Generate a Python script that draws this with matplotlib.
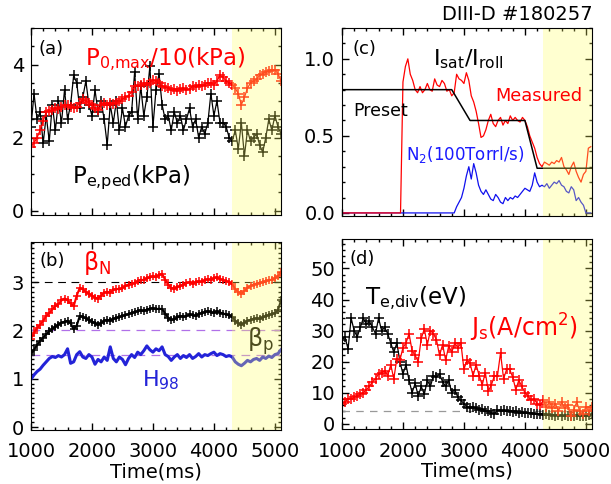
import matplotlib.pyplot as plt
import numpy as np
from matplotlib.ticker import MultipleLocator

# time bases (ms)
t50 = np.arange(1000, 5101, 50)
t40 = np.arange(1000, 5081, 40)

# (a) pedestal pressure and P0,max/10 (kPa)
pe_ped = [2.3, 3.2, 2.5, 2.7, 1.85, 2.6, 1.9, 2.9, 2.2, 3.0,
          2.4, 3.3, 2.5, 2.9, 3.7, 3.5, 2.8, 3.1, 3.55, 2.9,
          2.6, 3.3, 2.7, 3.0, 2.5, 1.8, 2.9, 2.4, 3.0, 2.2,
          2.8, 2.3, 2.6, 2.7, 3.8, 2.5, 3.4, 2.6, 3.1, 3.95,
          2.3, 3.3, 3.75, 2.9, 2.5, 2.6, 2.2, 2.7, 2.4, 2.6,
          2.2, 2.5, 2.8, 2.3, 2.5, 2.0, 2.3, 2.1, 2.4, 3.2,
          2.6, 3.0, 2.4, 2.4, 2.3, 2.0, 1.9, 2.2, 1.7, 2.4,
          1.5, 2.2, 1.9, 2.0, 2.1, 1.8, 1.6, 2.0, 2.5, 2.2,
          2.6, 2.3, 2.1]
p0_max = [1.75, 1.85, 2.0, 2.2, 2.45, 2.7, 2.72, 2.75, 2.8, 2.78,
          2.85, 2.9, 2.88, 2.85, 2.8, 2.85, 2.95, 3.05, 3.0, 2.95,
          2.9, 2.8, 2.75, 2.9, 2.95, 2.9, 2.95, 2.92, 2.95, 3.0,
          3.05, 3.1, 3.15, 3.25, 3.4, 3.42, 3.45, 3.48, 3.45, 3.5,
          3.58, 3.55, 3.5, 3.42, 3.38, 3.35, 3.3, 3.32, 3.28, 3.32,
          3.35, 3.3, 3.33, 3.4, 3.38, 3.45, 3.4, 3.45, 3.5, 3.48,
          3.45, 3.55, 3.7, 3.65, 3.55, 3.5, 3.45, 3.35, 3.2, 2.9,
          3.1, 3.35, 3.5, 3.55, 3.6, 3.7, 3.75, 3.8, 3.82, 3.85,
          3.85, 3.75, 3.55]

# (b) beta_N, beta_p, H98
beta_n = [1.83, 1.95, 2.05, 2.12, 2.2, 2.3, 2.36, 2.44, 2.5, 2.55,
          2.62, 2.66, 2.62, 2.56, 2.5, 2.72, 2.88, 2.85, 2.8, 2.76,
          2.72, 2.68, 2.66, 2.72, 2.78, 2.8, 2.78, 2.84, 2.86, 2.85,
          2.88, 2.92, 2.95, 2.97, 2.98, 3.02, 3.05, 3.04, 3.08, 3.1,
          3.12, 3.1, 3.15, 3.17, 3.05, 2.95, 2.88, 2.86, 2.9, 2.92,
          2.95, 2.98, 3.0, 2.97, 3.0, 3.02, 3.0, 3.04, 3.06, 3.05,
          3.08, 3.1, 3.06, 3.04, 3.02, 3.0, 2.96, 2.85, 2.8, 2.76,
          2.82, 2.88, 2.92, 2.95, 2.97, 2.98, 3.0, 3.02, 3.04, 3.05,
          3.08, 3.12, 3.2]
beta_p = [1.5, 1.6, 1.7, 1.78, 1.85, 1.92, 1.98, 2.03, 2.08, 2.12,
          2.16, 2.18, 2.2, 2.15, 2.02, 2.1, 2.3, 2.28, 2.25, 2.22,
          2.18, 2.15, 2.12, 2.15, 2.2, 2.22, 2.2, 2.24, 2.26, 2.28,
          2.3, 2.32, 2.34, 2.36, 2.38, 2.4, 2.42, 2.4, 2.43, 2.45,
          2.46, 2.44, 2.45, 2.44, 2.35, 2.26, 2.22, 2.23, 2.27, 2.3,
          2.28, 2.3, 2.33, 2.32, 2.3, 2.34, 2.36, 2.38, 2.4, 2.38,
          2.36, 2.4, 2.37, 2.35, 2.33, 2.32, 2.28, 2.2, 2.15, 2.12,
          2.16, 2.2, 2.22, 2.24, 2.25, 2.24, 2.27, 2.3, 2.32, 2.34,
          2.36, 2.42, 2.62]
h98 = [0.99, 1.08, 1.15, 1.2, 1.28, 1.35, 1.42, 1.46, 1.44, 1.48,
       1.45, 1.5, 1.62, 1.32, 1.35, 1.5, 1.56, 1.45, 1.42, 1.5,
       1.45, 1.3, 1.4, 1.35, 1.45, 1.38, 1.66, 1.42, 1.35, 1.45,
       1.4, 1.29, 1.42, 1.5, 1.44, 1.55, 1.5, 1.58, 1.68, 1.6,
       1.55, 1.62, 1.58, 1.66, 1.5, 1.46, 1.38, 1.45, 1.5, 1.42,
       1.48, 1.44, 1.5, 1.42, 1.46, 1.52, 1.45, 1.5, 1.48, 1.52,
       1.55, 1.48, 1.52, 1.5, 1.46, 1.48, 1.45, 1.35, 1.3, 1.27,
       1.32, 1.38, 1.35, 1.4, 1.42, 1.38, 1.45, 1.42, 1.47, 1.44,
       1.5, 1.52, 1.6]

# (c) Isat/Iroll: preset and measured, N2 puff
preset_t = [1000, 2800, 3100, 4000, 4200, 5100]
preset_v = [0.8, 0.8, 0.6, 0.6, 0.29, 0.29]
measured = [0.0] * 25 + [
    0.85, 0.95, 1.0, 0.9, 0.86, 0.8, 0.78, 0.82, 0.78, 0.8,
    0.84, 0.8, 0.79, 0.87, 0.83, 0.82, 0.86, 0.84, 0.79, 0.8,
    0.76, 0.78, 0.9, 0.87, 0.86, 0.84, 0.91, 0.86, 0.76, 0.72,
    0.66, 0.58, 0.49, 0.5, 0.54, 0.6, 0.64, 0.58, 0.56, 0.6,
    0.62, 0.57, 0.6, 0.58, 0.63, 0.6, 0.62, 0.6, 0.59, 0.62,
    0.6, 0.56, 0.5, 0.46, 0.42, 0.36, 0.32, 0.3, 0.33, 0.32,
    0.31, 0.33, 0.32, 0.34, 0.33, 0.36, 0.3, 0.28, 0.25, 0.3,
    0.33, 0.27, 0.23, 0.2, 0.25, 0.27, 0.42, 0.43]
n2_flow = [0.0] * 47 + [
    0.04, 0.07, 0.1, 0.16, 0.24, 0.3, 0.22, 0.32, 0.26, 0.18,
    0.14, 0.12, 0.15, 0.12, 0.09, 0.08, 0.12, 0.1, 0.07, 0.06,
    0.1, 0.08, 0.1, 0.09, 0.11, 0.1, 0.12, 0.14, 0.16, 0.15,
    0.14, 0.18, 0.26, 0.2, 0.17, 0.18, 0.17, 0.19, 0.16, 0.18,
    0.2, 0.19, 0.21, 0.18, 0.17, 0.14, 0.13, 0.17, 0.15, 0.08,
    0.1, 0.07, 0.05, 0.0, 0.0, 0.0]

# (d) divertor Te (eV) and Js (A/cm2)
te_div = [27, 28, 24, 34, 30, 28, 31, 34, 32, 33,
          31, 29, 34, 30, 31, 29, 26, 23, 26, 20,
          16, 19, 14, 10, 13, 9, 12, 9.5, 14, 12,
          15.5, 15, 16, 13.5, 12, 14, 10, 11, 8.5, 7.5,
          6.5, 5.5, 5, 5.5, 5, 4.5, 4.8, 4.2, 4.0, 3.5,
          3.2, 4.5, 4.2, 4.4, 4.0, 4.2, 3.8, 4.0, 3.6, 3.8,
          3.4, 3.5, 3.3, 3.2, 3.0, 3.1, 2.8, 3.0, 2.8, 2.9,
          2.6, 2.8, 2.5, 2.7, 2.4, 2.6, 2.5, 2.7, 2.4, 2.6,
          2.5, 2.8, 3.0]
js = [6.5, 7, 8, 8, 8.5, 9, 9.5, 10, 11, 12,
      13.5, 14.5, 16, 16.5, 17, 15.5, 19, 14.5, 21, 20.5,
      24.5, 26, 29, 23.5, 22, 20, 27.5, 30.5, 25.5, 30,
      29, 27, 22, 25.5, 20.5, 25, 23, 26, 24.5, 26,
      17.5, 20.5, 19.5, 15.5, 19, 15.5, 12.5, 16.5, 10.5, 12.5,
      15.5, 15.5, 22.8, 14.5, 17.5, 17.5, 15, 11, 14, 12,
      10, 9, 7.5, 8, 6.5, 6, 7.5, 5.5, 7, 5,
      6.5, 4, 7, 5, 6, 2.5, 4.5, 7, 4, 3,
      5.5, 4, 5.5]

plt.rcParams['font.family'] = ['DejaVu Sans']
plt.rcParams['mathtext.fontset'] = 'dejavusans'

RED = '#ff0000'
BLUE = '#2323d8'

fig = plt.figure(figsize=(6.11, 4.84), dpi=100)
ax_a = fig.add_axes([0.0507, 0.5558, 0.4092, 0.3864])
ax_c = fig.add_axes([0.5597, 0.5537, 0.4092, 0.3884])
ax_b = fig.add_axes([0.0507, 0.1116, 0.4092, 0.3884])
ax_d = fig.add_axes([0.5597, 0.1136, 0.4092, 0.3926])


def style(ax, ymaj, ymin, xlabels):
    ax.set_xlim(1000, 5100)
    ax.xaxis.set_major_locator(MultipleLocator(1000))
    ax.xaxis.set_minor_locator(MultipleLocator(200))
    ax.yaxis.set_major_locator(MultipleLocator(ymaj))
    ax.yaxis.set_minor_locator(MultipleLocator(ymin))
    ax.tick_params(which='both', direction='in', top=True, right=True,
                   width=1, labelsize=14)
    ax.tick_params(which='major', length=5)
    ax.tick_params(which='minor', length=2.5)
    ax.tick_params(axis='x', pad=9)
    ax.tick_params(axis='y', pad=5)
    if not xlabels:
        ax.tick_params(axis='x', labelbottom=False)
    else:
        ax.set_xlabel('Time(ms)', fontsize=14, labelpad=1)
    # shaded window drawn over the data, so traces beneath look tinted
    ax.axvspan(4300, 5100, facecolor=(1, 1, 0.4), alpha=0.3, lw=0, zorder=2.4)


# (a)
ax_a.plot(t50, pe_ped, '-', color='black', lw=0.9, marker='+', ms=7, mew=1.1)
ax_a.plot(t50, p0_max, '-', color=RED, lw=0.9, marker='+', ms=7, mew=1.1)
ax_a.set_ylim(-0.12, 5.0)
style(ax_a, 2, 0.5, False)
ax_a.text(0.03, 0.86, '(a)', transform=ax_a.transAxes, fontsize=13)
ax_a.text(0.216, 0.80, r'P$_{\mathrm{0{,}max}}$/10(kPa)', color=RED,
          transform=ax_a.transAxes, fontsize=16.5, zorder=5)
ax_a.text(0.164, 0.17, r'P$_{\mathrm{e{,}ped}}$(kPa)', color='black',
          transform=ax_a.transAxes, fontsize=16.5)

# (b)
ax_b.axhline(3.0, color='black', lw=0.8, ls=(0, (7, 5)))
ax_b.axhline(2.0, color='#b070e8', lw=0.9, ls=(0, (7, 5)))
ax_b.axhline(1.5, color='#b070e8', lw=0.9, ls=(0, (7, 5)))
ax_b.plot(t50, beta_n, '-', color=RED, lw=1.5, marker='+', ms=6, mew=1.1)
ax_b.plot(t50, beta_p, '-', color='black', lw=1.5, marker='+', ms=6, mew=1.1)
ax_b.plot(t50, h98, '-', color=BLUE, lw=2.2)
ax_b.set_ylim(-0.06, 3.83)
style(ax_b, 1, 0.1, True)
ax_b.text(0.036, 0.87, '(b)', transform=ax_b.transAxes, fontsize=13)
ax_b.text(0.21, 0.85, r'$\mathrm{\beta_N}$', color=RED,
          transform=ax_b.transAxes, fontsize=17)
ax_b.text(0.864, 0.44, r'$\mathrm{\beta_p}$', color='black',
          transform=ax_b.transAxes, fontsize=17, zorder=2.3)
ax_b.text(0.444, 0.233, r'H$_{\mathrm{98}}$', color=BLUE,
          transform=ax_b.transAxes, fontsize=16)

# (c)
ax_c.plot(t40, n2_flow, '-', color='#1010ee', lw=0.9)
ax_c.plot(t40, measured, '-', color=RED, lw=0.9)
ax_c.plot(preset_t, preset_v, '-', color='black', lw=1.1)
ax_c.set_ylim(-0.02, 1.2)
style(ax_c, 0.5, 0.1, False)
ax_c.yaxis.set_major_formatter(plt.FormatStrFormatter('%.1f'))
ax_c.text(0.044, 0.86, '(c)', transform=ax_c.transAxes, fontsize=13)
ax_c.text(0.364, 0.80, r'I$_{\mathrm{sat}}$/I$_{\mathrm{roll}}$',
          transform=ax_c.transAxes, fontsize=16)
ax_c.text(0.612, 0.613, 'Measured', color=RED,
          transform=ax_c.transAxes, fontsize=12.8, zorder=5)
ax_c.text(0.044, 0.53, 'Preset', transform=ax_c.transAxes, fontsize=12.5)
ax_c.text(0.256, 0.30, r'N$_{\mathrm{2}}$(100Torrl/s)', color='#1a1aff',
          transform=ax_c.transAxes, fontsize=12)

# (d)
ax_d.axhline(4.0, color='#999999', lw=0.9, ls=(0, (6, 5)))
ax_d.plot(t50, te_div, '-', color='black', lw=0.9, marker='+', ms=7, mew=1.1)
ax_d.plot(t50, js, '-', color=RED, lw=0.9, marker='+', ms=7, mew=1.1)
ax_d.set_ylim(-1.7, 59.5)
style(ax_d, 10, 2, True)
ax_d.text(0.032, 0.87, '(d)', transform=ax_d.transAxes, fontsize=13)
ax_d.text(0.092, 0.66, r'T$_{\mathrm{e{,}div}}$(eV)', color='black',
          transform=ax_d.transAxes, fontsize=16.5)
ax_d.text(0.512, 0.487, r'J$_{\mathrm{s}}$(A/cm$^{\mathrm{2}}$)', color=RED,
          transform=ax_d.transAxes, fontsize=17, zorder=5)

fig.text(0.970, 0.959, 'DIII-D #180257', ha='right', fontsize=14)

fig.savefig('out.png', dpi=100)
